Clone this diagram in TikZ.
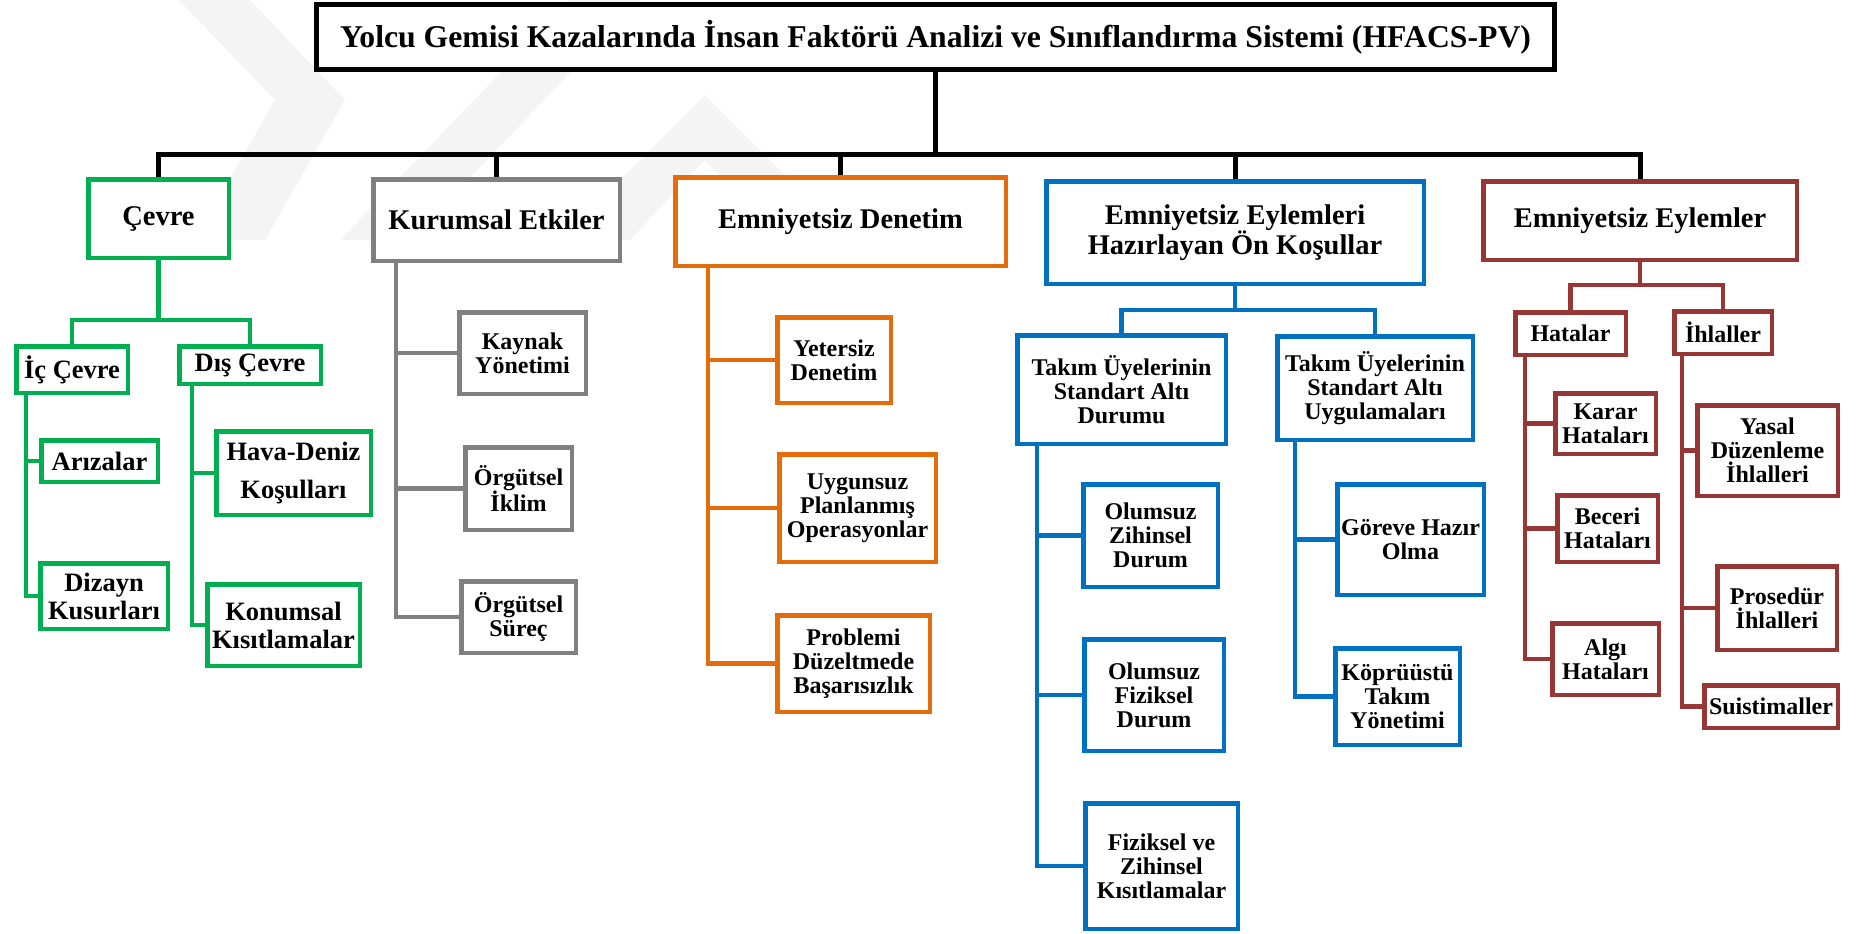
\documentclass[tikz,border=0pt]{standalone}
\usepackage{fontspec}
\setmainfont{Liberation Serif}
\definecolor{cgreen}{RGB}{0,176,80}
\definecolor{cgray}{RGB}{128,128,128}
\definecolor{corange}{RGB}{228,108,10}
\definecolor{cblue}{RGB}{0,112,192}
\definecolor{cred}{RGB}{150,55,53}
\definecolor{wmark}{RGB}{244,244,244}
\tikzset{
  box/.style={draw, line width=4.5pt, fill=white, align=center, inner sep=0pt,
    font=\bfseries\fontsize{24}{24}\selectfont},
  topbox/.style={box, draw=black, line width=5pt, font=\bfseries\fontsize{31.7}{38}\selectfont},
  headbox/.style={box, font=\bfseries\fontsize{28.5}{30}\selectfont},
  bigsub/.style={font=\bfseries\fontsize{26.5}{28}\selectfont},
  link/.style={line width=4.5pt, line join=miter},
  kline/.style={link, draw=black, line width=5pt},
  gline/.style={link, draw=cgreen},
  aline/.style={link, draw=cgray},
  oline/.style={link, draw=corange},
  bline/.style={link, draw=cblue},
  rline/.style={link, draw=cred},
}
\begin{document}
\begin{tikzpicture}[x=1pt,y=-1pt]
\useasboundingbox (0,0) rectangle (1858,934);

% faint background emblem
\fill[wmark] (179,0) -- (250,0) -- (345,100) -- (265,240) -- (195,240) -- (275,100) -- cycle;
\fill[wmark] (340,240) -- (410,240) -- (640,0) -- (570,0) -- cycle;
\fill[wmark] (560,240) -- (630,240) -- (705,160) -- (780,240) -- (850,240) -- (705,95) -- cycle;

% title and first level
\node[topbox, minimum width=1238, minimum height=65] (title) at (935.5,37)
  {Yolcu Gemisi Kazalarında İnsan Faktörü Analizi ve Sınıflandırma Sistemi (HFACS-PV)};
\node[headbox, draw=cgreen, minimum width=140.5, minimum height=78.5] (cevre) at (158.5,218.5) {Çevre};
\node[headbox, draw=cgray, minimum width=246.5, minimum height=81.5] (kurumsal) at (496.5,220) {Kurumsal Etkiler};
\node[headbox, draw=corange, minimum width=330.5, minimum height=88.5] (denetim) at (840.5,221.5) {Emniyetsiz Denetim};
\node[headbox, draw=cblue, minimum width=377.5, minimum height=102.5] (onkosul) at (1235,232.5) {Emniyetsiz Eylemleri\\Hazırlayan Ön Koşullar};
\node[headbox, draw=cred, minimum width=313.5, minimum height=78.5] (eylemler) at (1640,220.5) {Emniyetsiz Eylemler};

% environment
\node[box, bigsub, draw=cgreen, minimum width=111.5, minimum height=46.5] (ic) at (72,369.5) {İç Çevre};
\node[box, bigsub, draw=cgreen, minimum width=141.5, minimum height=37.5] (dis) at (250,365) {Dış Çevre};
\node[box, bigsub, draw=cgreen, minimum width=116.5, minimum height=41.5] (ariza) at (99.5,461) {Arızalar};
\node[box, bigsub, draw=cgreen, minimum width=127.5, minimum height=65.5] (dizayn) at (104,596) {Dizayn\\Kusurları};
\node[box, draw=cgreen, font=\bfseries\fontsize{26.5}{38}\selectfont, minimum width=154.5, minimum height=83.5] (hava) at (293.5,473) {Hava-Deniz\\Koşulları};
\node[box, bigsub, draw=cgreen, minimum width=152.5, minimum height=81.5] (konum) at (283.5,625) {Konumsal\\Kısıtlamalar};

% organisational influences
\node[box, draw=cgray, minimum width=126.5, minimum height=81.5] (kaynak) at (522.5,353) {Kaynak\\Yönetimi};
\node[box, draw=cgray, minimum width=106.5, minimum height=82.5] (iklim) at (518.5,488.5) {Örgütsel\\İklim};
\node[box, draw=cgray, minimum width=114.5, minimum height=71.5] (surec) at (518.5,617) {Örgütsel\\Süreç};

% unsafe supervision
\node[box, draw=corange, minimum width=113.5, minimum height=85.5] (yetersiz) at (834,360) {Yetersiz\\Denetim};
\node[box, draw=corange, minimum width=156.5, minimum height=107.5] (uygunsuz) at (857.5,508) {Uygunsuz\\Planlanmış\\Operasyonlar};
\node[box, draw=corange, minimum width=152.5, minimum height=96.5] (problemi) at (853.5,663.5) {Problemi\\Düzeltmede\\Başarısızlık};

% preconditions
\node[box, draw=cblue, minimum width=208.5, minimum height=108.5] (takim1) at (1121.5,389.5) {Takım Üyelerinin\\Standart Altı\\Durumu};
\node[box, draw=cblue, minimum width=195.5, minimum height=103.5] (takim2) at (1375,388) {Takım Üyelerinin\\Standart Altı\\Uygulamaları};
\node[box, draw=cblue, minimum width=134.5, minimum height=102.5] (zihin) at (1150.5,535.5) {Olumsuz\\Zihinsel\\Durum};
\node[box, draw=cblue, minimum width=139.5, minimum height=111.5] (fizik) at (1154,695) {Olumsuz\\Fiziksel\\Durum};
\node[box, draw=cblue, minimum width=152.5, minimum height=125.5] (kisit) at (1161.5,866) {Fiziksel ve\\Zihinsel\\Kısıtlamalar};
\node[box, draw=cblue, minimum width=146.5, minimum height=110.5] (goreve) at (1410.5,539.5) {Göreve Hazır\\Olma};
\node[box, draw=cblue, minimum width=124.5, minimum height=96.5] (kopru) at (1397.5,696.5) {Köprüüstü\\Takım\\Yönetimi};

% unsafe acts
\node[box, draw=cred, minimum width=110.5, minimum height=42.5] (hatalar) at (1570.5,333.5) {Hatalar};
\node[box, draw=cred, minimum width=97.5, minimum height=42.5] (ihlal) at (1723,332.5) {İhlaller};
\node[box, draw=cred, minimum width=100.5, minimum height=60.5] (karar) at (1605.5,423.5) {Karar\\Hataları};
\node[box, draw=cred, minimum width=100.5, minimum height=66.5] (beceri) at (1607.5,528.5) {Beceri\\Hataları};
\node[box, draw=cred, minimum width=106.5, minimum height=71.5] (algi) at (1605.5,659) {Algı\\Hataları};
\node[box, draw=cred, minimum width=140.5, minimum height=90.5] (yasal) at (1767.5,450.5) {Yasal\\Düzenleme\\İhlalleri};
\node[box, draw=cred, minimum width=119.5, minimum height=83.5] (prosedur) at (1777,608) {Prosedür\\İhlalleri};
\node[box, draw=cred, minimum width=133.5, minimum height=42.5] (suist) at (1771,706.5) {Suistimaller};

% bus levels
\coordinate (busM) at (0,154);
\coordinate (busG) at (0,320);
\coordinate (busB) at (0,310);
\coordinate (busR) at (0,285);

% main tree
\draw[kline] (title.south) -- (title.south |- busM);
\draw[kline] (cevre.north) -- (cevre.north |- busM) -- (eylemler.north |- busM) -- (eylemler.north);
\draw[kline] (kurumsal.north) -- (kurumsal.north |- busM);
\draw[kline] (denetim.north) -- (denetim.north |- busM);
\draw[kline] (onkosul.north) -- (onkosul.north |- busM);

% environment links
\draw[gline] (cevre.south) -- (cevre.south |- busG);
\draw[gline] (ic.north) -- (ic.north |- busG) -- (dis.north |- busG) -- (dis.north);
\draw[gline] ([xshift=12pt]ic.south west) |- (ariza.west);
\draw[gline] ([xshift=12pt]ic.south west) |- (dizayn.west);
\draw[gline] ([xshift=15pt]dis.south west) |- (hava.west);
\draw[gline] ([xshift=15pt]dis.south west) |- (konum.west);

% organisational links
\draw[aline] ([xshift=25pt]kurumsal.south west) |- (kaynak.west);
\draw[aline] ([xshift=25pt]kurumsal.south west) |- (iklim.west);
\draw[aline] ([xshift=25pt]kurumsal.south west) |- (surec.west);

% supervision links
\draw[oline] ([xshift=35pt]denetim.south west) |- (yetersiz.west);
\draw[oline] ([xshift=35pt]denetim.south west) |- (uygunsuz.west);
\draw[oline] ([xshift=35pt]denetim.south west) |- (problemi.west);

% precondition links
\draw[bline] (onkosul.south) -- (onkosul.south |- busB);
\draw[bline] (takim1.north) -- (takim1.north |- busB) -- (takim2.north |- busB) -- (takim2.north);
\draw[bline] ([xshift=22pt]takim1.south west) |- (zihin.west);
\draw[bline] ([xshift=22pt]takim1.south west) |- (fizik.west);
\draw[bline] ([xshift=22pt]takim1.south west) |- (kisit.west);
\draw[bline] ([xshift=20pt]takim2.south west) |- (goreve.west);
\draw[bline] ([xshift=20pt]takim2.south west) |- (kopru.west);

% unsafe act links
\draw[rline] (eylemler.south) -- (eylemler.south |- busR);
\draw[rline] (hatalar.north) -- (hatalar.north |- busR) -- (ihlal.north |- busR) -- (ihlal.north);
\draw[rline] ([xshift=12pt]hatalar.south west) |- (karar.west);
\draw[rline] ([xshift=12pt]hatalar.south west) |- (beceri.west);
\draw[rline] ([xshift=12pt]hatalar.south west) |- (algi.west);
\draw[rline] ([xshift=10pt]ihlal.south west) |- (yasal.west);
\draw[rline] ([xshift=10pt]ihlal.south west) |- (prosedur.west);
\draw[rline] ([xshift=10pt]ihlal.south west) |- (suist.west);
\end{tikzpicture}
\end{document}
